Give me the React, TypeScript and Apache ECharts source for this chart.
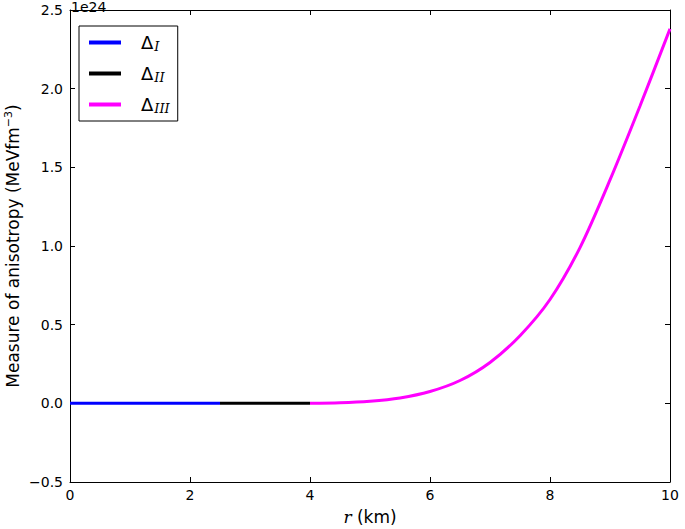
import React, { useEffect, useRef } from "react";
import * as echarts from "echarts";

const rI = [0, 2.5];
const yI = [0, 0];
const rII = [2.5, 4];
const yII = [0, 0];
const rIII = [4, 4.5, 5, 5.5, 6, 6.5, 7, 7.5, 8, 8.5, 9, 9.5, 10];
const yIII = [0, 0.003, 0.013, 0.034, 0.075, 0.145, 0.26, 0.43, 0.66, 0.99, 1.42, 1.89, 2.38];
const seriesNames = ["ΔI", "ΔII", "ΔIII"];
const subs = ["I", "II", "III"];
const colors = ["#0000ff", "#000000", "#ff00ff"];

const pairs = (xs: number[], ys: number[]) => xs.map((x, i) => [x, ys[i]]);

const fmt = (v: number) => (v < 0 ? "\u2212" + Math.abs(v).toFixed(1) : v.toFixed(1));

export default function App() {
  const ref = useRef<HTMLDivElement>(null);
  useEffect(() => {
    if (!ref.current) return;
    const chart = echarts.init(ref.current, null, { renderer: "svg" });
    const font = "DejaVu Sans";
    const axisCommon = {
      axisLine: { onZero: false, lineStyle: { color: "#000", width: 1 } },
      axisTick: { inside: true, length: 5, lineStyle: { color: "#000" } },
      splitLine: { show: false },
    };
    const lineSeries = [pairs(rI, yI), pairs(rII, yII), pairs(rIII, yIII)].map((d, i) => ({
      type: "line",
      name: seriesNames[i],
      data: d,
      showSymbol: false,
      smooth: i === 2 ? 0.3 : false,
      lineStyle: { color: colors[i], width: 3 },
      itemStyle: { color: colors[i] },
      xAxisIndex: 0,
      yAxisIndex: 0,
      z: 3,
    }));
    chart.setOption({
      animation: false,
      textStyle: { fontFamily: font },
      grid: { left: 70, right: 15, top: 10, bottom: 47, containLabel: false, outerBoundsMode: "none" },
      xAxis: [
        {
          type: "value",
          min: 0,
          max: 10,
          interval: 2,
          ...axisCommon,
          axisLabel: { color: "#000", fontSize: 14, fontFamily: font, margin: 6 },
          name: "{i|r} (km)",
          nameLocation: "middle",
          nameGap: 26,
          nameTextStyle: {
            color: "#000",
            fontSize: 17,
            fontFamily: font,
            rich: { i: { fontFamily: "DejaVu Serif", fontStyle: "italic", fontSize: 17, color: "#000" } },
          },
        },
        {
          type: "value",
          position: "top",
          min: 0,
          max: 10,
          interval: 2,
          ...axisCommon,
          axisLabel: { show: false },
        },
      ],
      yAxis: [
        {
          type: "value",
          min: -0.5,
          max: 2.5,
          interval: 0.5,
          ...axisCommon,
          axisLabel: { color: "#000", fontSize: 14, fontFamily: font, margin: 7, formatter: fmt },
          name: "{a|Measure of anisotropy (MeVfm}{s|\u22123}{a|)}",
          nameLocation: "middle",
          nameGap: 47,
          nameMoveOverlap: false,
          nameRotate: 90,
          nameTextStyle: {
            color: "#000",
            fontFamily: font,
            rich: {
              a: { fontSize: 17, fontFamily: font, color: "#000", lineHeight: 20 },
              s: { fontSize: 11, fontFamily: font, color: "#000", padding: [0, 0, 10, 0], lineHeight: 20 },
            },
          },
        },
        {
          type: "value",
          position: "right",
          min: -0.5,
          max: 2.5,
          interval: 0.5,
          ...axisCommon,
          axisLabel: { show: false },
        },
      ],
      legend: {
        left: 79,
        top: 26,
        orient: "vertical",
        data: seriesNames,
        icon: "rect",
        itemWidth: 32,
        itemHeight: 4,
        itemGap: 10,
        borderColor: "#000",
        borderWidth: 1,
        borderRadius: 0,
        padding: [6, 8, 6, 10],
        backgroundColor: "#fff",
        formatter: (name: string) => {
          const i = seriesNames.indexOf(name);
          return "{d|\u0394}{s|" + subs[i] + "}";
        },
        textStyle: {
          color: "#000",
          rich: {
            d: { fontSize: 18, fontFamily: font, color: "#000", lineHeight: 20, padding: [0, 0, 0, 15] },
            s: {
              fontSize: 13,
              fontFamily: "DejaVu Serif",
              fontStyle: "italic",
              color: "#000",
              lineHeight: 20,
              padding: [8, 0, 0, 1],
            },
          },
        },
      },
      graphic: [
        {
          type: "text",
          left: 71,
          top: 0,
          style: { text: "1e24", fontSize: 14, fontFamily: font, fill: "#000" },
        },
      ],
      series: lineSeries,
    });
    return () => chart.dispose();
  }, []);
  return (
    <div
      ref={ref}
      style={{ position: "fixed", left: 0, top: 0, width: 685, height: 529, background: "#fff" }}
    />
  );
}
